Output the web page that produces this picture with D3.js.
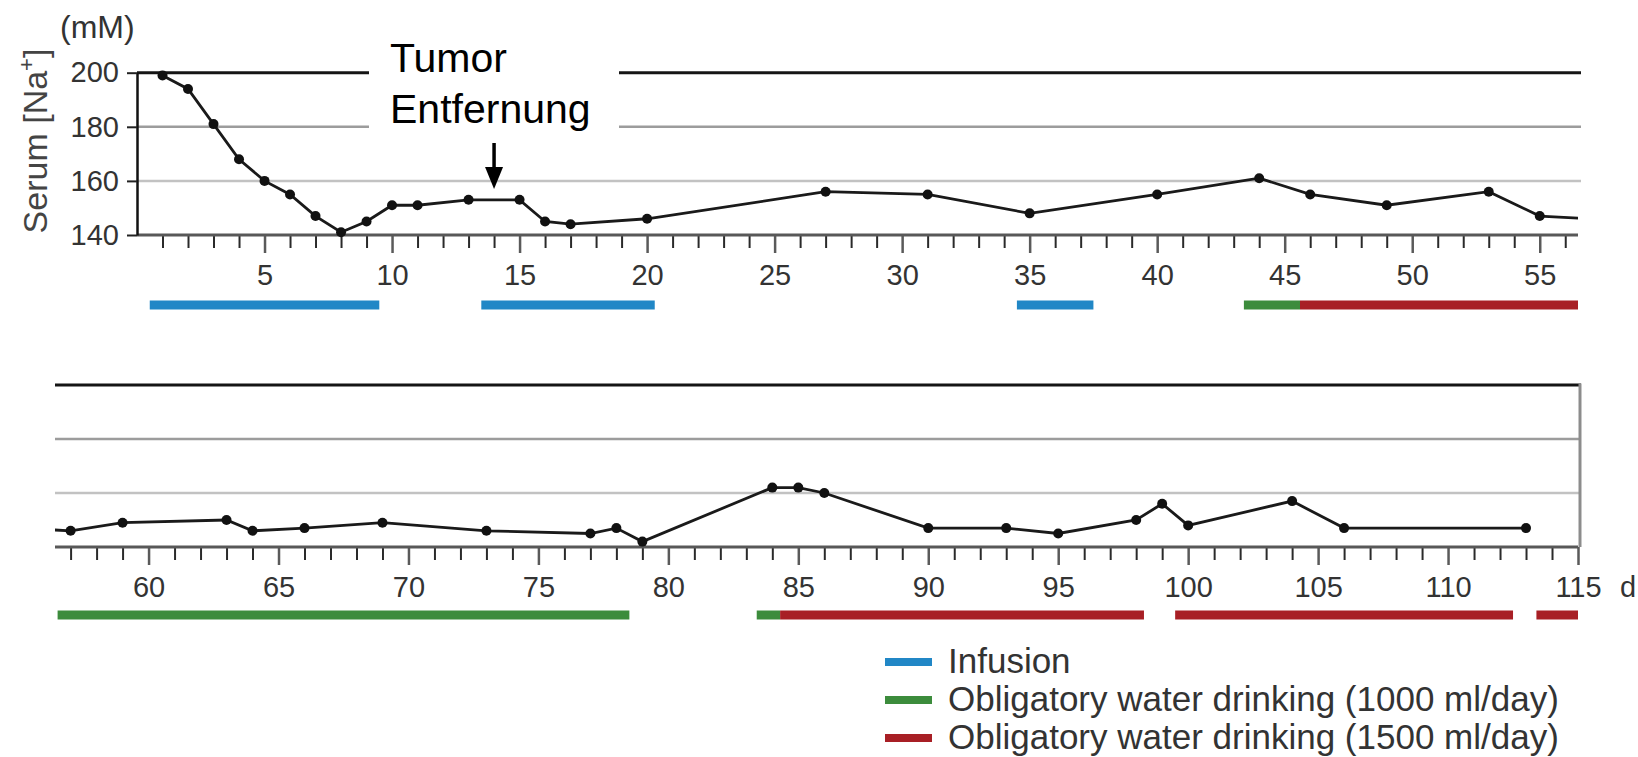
<!DOCTYPE html>
<html><head><meta charset="utf-8">
<script src="https://cdn.jsdelivr.net/npm/d3@7"></script>
<style>body{margin:0;background:#fff;} text{font-family:"Liberation Sans",Arial,Helvetica,sans-serif;}</style>
</head><body><svg id="chart" width="1638" height="757"></svg>
<script>
// ---- data ----
const days   = [1,2,3,4,5,6,7,8,9,10,11,13,15,16,17,20,27,31,35,40,44,46,49,53,55,57,59,63,64,66,69,73,77,78,79,84,85,86,90,93,95,98,99,100,104,106,113];
const sodium = [199,194,181,168,160,155,147,141,145,151,151,153,153,145,144,146,156,155,148,155,161,155,151,156,147,146,149,150,146,147,149,146,145,147,142,162,162,160,147,147,145,150,156,148,157,147,147];
const yTicks = [140,160,180,200];
const topTickLabels = [5,10,15,20,25,30,35,40,45,50,55];
const bottomTickLabels = [60,65,70,75,80,85,90,95,100,105,110,115];
const infusion  = [[0.5,9.5],[13.5,20.3],[34.5,37.5]];
const water1000 = [[43.4,45.6],[56.5,78.5],[83.4,84.3]];
const water1500 = [[45.6,56.5],[84.3,98.3],[99.5,112.5],[113.4,115]];
const legendLabels = ["Infusion","Obligatory water drinking (1000 ml/day)","Obligatory water drinking (1500 ml/day)"];
const annotationLines = ["Tumor","Entfernung"];
const annotationDay = 14;
const yUnit = "(mM)";
const dayUnit = "d";

const points = days.map((d,i)=>({day:d, v:sodium[i]}));
const colors = {infusion:"#2187c6", water1000:"#3c8c3c", water1500:"#a81f25"};

const svg = d3.select("#chart");
svg.append("rect").attr("width",1638).attr("height",757).attr("fill","#fff");

const panels = [
  {id:"top", xDomain:[0,56.5], xRange:[137,1578], yRange:[235,72.7], barY:305, labels:topTickLabels, yAxis:true, border:false},
  {id:"bot", xDomain:[56.4,115], xRange:[55,1578], yRange:[547,385], barY:615, labels:bottomTickLabels, yAxis:false, border:true}
];

const gridStyle = {200:{c:"#151515",w:3}, 180:{c:"#9c9c9c",w:2.5}, 160:{c:"#c2c2c2",w:2.5}};

panels.forEach(p=>{
  const x = d3.scaleLinear().domain(p.xDomain).range(p.xRange);
  const y = d3.scaleLinear().domain([140,200]).range(p.yRange);
  const g = svg.append("g");
  const gridEnd = 1581;

  [160,180,200].forEach(v=>{
    g.append("line").attr("x1",p.xRange[0]).attr("x2",gridEnd)
      .attr("y1",y(v)).attr("y2",y(v))
      .attr("stroke",gridStyle[v].c).attr("stroke-width",gridStyle[v].w);
  });

  if(p.border){
    g.append("line").attr("x1",1580).attr("x2",1580).attr("y1",y(200)-1.5).attr("y2",y(140))
      .attr("stroke","#8c8c8c").attr("stroke-width",3);
  }

  const lo = Math.ceil(p.xDomain[0]), hi = Math.floor(p.xDomain[1]);
  const minor = d3.range(Math.max(lo,1), hi+1).filter(d=>d%5!==0);
  const gMinor = g.append("g").attr("transform",`translate(0,${y(140)})`)
    .call(d3.axisBottom(x).tickValues(minor).tickSize(13).tickFormat(""));
  gMinor.select(".domain").remove();
  gMinor.selectAll("line").attr("stroke","#2a2a2a").attr("stroke-width",2);
  const gMajor = g.append("g").attr("transform",`translate(0,${y(140)})`)
    .call(d3.axisBottom(x).tickValues(p.labels).tickSize(18).tickPadding(11).tickFormat(d3.format("d")));
  gMajor.select(".domain").remove();
  gMajor.selectAll("line").attr("stroke","#5a5a5a").attr("stroke-width",2.5);
  gMajor.selectAll("text").attr("font-size",29).attr("fill","#333")
    .attr("font-family",'"Liberation Sans",Arial,sans-serif');
  g.append("line").attr("x1",p.xRange[0]).attr("x2",p.xRange[1]).attr("y1",y(140)).attr("y2",y(140))
    .attr("stroke","#585858").attr("stroke-width",3);

  if(p.id==="bot"){
    g.append("text").attr("x",1620).attr("y",y(140)+18+11).attr("dy","0.71em")
      .attr("font-size",29).attr("fill","#333").text(dayUnit);
  }

  if(p.yAxis){
    g.append("rect").attr("x",369).attr("y",60).attr("width",250).attr("height",80).attr("fill","#fff");
    const ya = g.append("g").attr("transform",`translate(${p.xRange[0]},0)`)
      .call(d3.axisLeft(y).tickValues(yTicks).tickSize(10).tickSizeOuter(0).tickPadding(8));
    ya.select(".domain").attr("stroke","#111").attr("stroke-width",2.5);
    ya.selectAll("line").attr("stroke","#222").attr("stroke-width",2);
    ya.selectAll("text").attr("font-size",29).attr("fill","#333")
      .attr("font-family",'"Liberation Sans",Arial,sans-serif');

    annotationLines.forEach((t,i)=>{
      g.append("text").attr("x",390).attr("y",71.5+i*51).attr("font-size",41).attr("fill","#000").text(t);
    });
    const ax = x(annotationDay);
    g.append("line").attr("x1",ax).attr("x2",ax).attr("y1",143).attr("y2",172)
      .attr("stroke","#000").attr("stroke-width",3.5);
    g.append("path").attr("d",`M${ax-9},167 L${ax+9},167 L${ax},189 Z`).attr("fill","#000");
  }

  const clipId = "clip-"+p.id;
  svg.append("clipPath").attr("id",clipId).append("rect")
    .attr("x",p.xRange[0]).attr("y",p.yRange[1]-20).attr("width",p.xRange[1]-p.xRange[0]).attr("height",p.yRange[0]-p.yRange[1]+30);
  const line = d3.line().x(d=>x(d.day)).y(d=>y(d.v));
  g.append("path").datum(points).attr("d",line).attr("fill","none")
    .attr("stroke","#1a1a1a").attr("stroke-width",2.8).attr("clip-path",`url(#${clipId})`);
  g.selectAll("circle.pt").data(points.filter(d=>d.day>=p.xDomain[0]&&d.day<=p.xDomain[1]))
    .join("circle").attr("class","pt").attr("cx",d=>x(d.day)).attr("cy",d=>y(d.v)).attr("r",5).attr("fill","#111");

  const drawBars = (segs,color)=>{
    segs.forEach(([s,e])=>{
      const a = Math.max(s,p.xDomain[0]), b = Math.min(e,p.xDomain[1]);
      if(b-a < 0.2) return;
      g.append("line").attr("x1",x(a)).attr("x2",x(b)).attr("y1",p.barY).attr("y2",p.barY)
        .attr("stroke",color).attr("stroke-width",9);
    });
  };
  drawBars(infusion,colors.infusion);
  drawBars(water1000,colors.water1000);
  drawBars(water1500,colors.water1500);
});

svg.append("text").attr("x",60).attr("y",38).attr("font-size",32).attr("fill","#333").text(yUnit);
const yt = svg.append("text").attr("transform","translate(47,141) rotate(-90)")
  .attr("text-anchor","middle").attr("font-size",34).attr("fill","#444");
yt.append("tspan").text("Serum [Na");
yt.append("tspan").attr("font-size",22).attr("dy","-0.6em").text("+");
yt.append("tspan").attr("dy","0.4em").text("]");

const legColors = [colors.infusion, colors.water1000, colors.water1500];
legendLabels.forEach((t,i)=>{
  const by = 673 + i*38;
  svg.append("line").attr("x1",885).attr("x2",932).attr("y1",by-11).attr("y2",by-11)
    .attr("stroke",legColors[i]).attr("stroke-width",8);
  svg.append("text").attr("x",948).attr("y",by).attr("font-size",35).attr("fill","#333").text(t);
});
</script></body></html>
